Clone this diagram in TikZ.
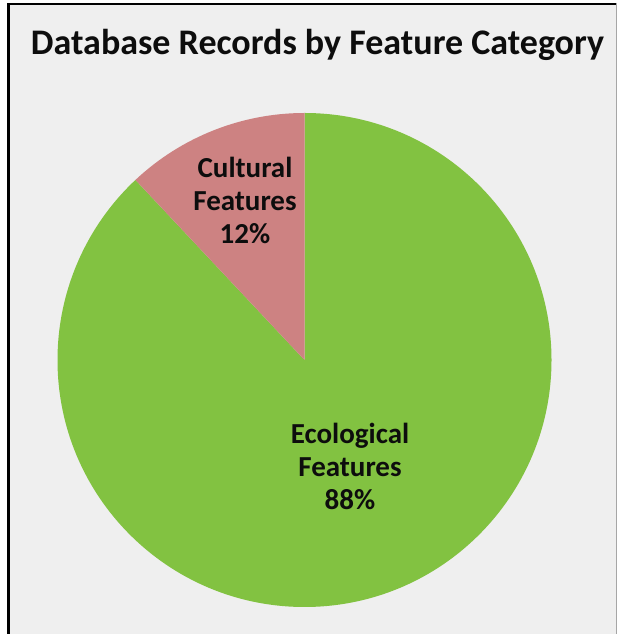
\documentclass[tikz,border=0pt]{standalone}
\usepackage{fontspec}
\setmainfont{Carlito}
\definecolor{bg}{HTML}{EFEFEF}
\definecolor{ecogreen}{RGB}{130,194,65}
\definecolor{culpink}{RGB}{205,130,130}
\definecolor{txt}{HTML}{0D0D0D}
\begin{document}
\begin{tikzpicture}[x=1pt,y=1pt,
  lbl/.style={font=\fontsize{29}{33}\selectfont\bfseries, text=txt, align=center, inner sep=0pt}]
\useasboundingbox (0,0) rectangle (621,634);
\fill[white] (0,0) rectangle (621,634);
\fill[bg] (8.5,-2) rectangle (616,630);
\draw[black, line width=2.5pt] (8.5,-2) -- (8.5,630);
\draw[black, line width=2pt] (7.3,630) -- (616,630);
\draw[gray!70, line width=1pt] (616,631) -- (616,-2);
\coordinate (c) at (304.5,274);
\fill[ecogreen] (c) -- ++(90:247) arc[start angle=90, end angle=-226.8, radius=247] -- cycle;
\fill[culpink] (c) -- ++(90:247) arc[start angle=90, end angle=133.2, radius=247] -- cycle;
\node[font=\fontsize{36}{40}\selectfont\bfseries, text=txt, inner sep=0pt] (title) at (317.5,589) {Database Records by Feature Category};
\node[lbl] (cul) at (245,434) {Cultural\\Features\\12\%};
\node[lbl] (eco) at (350,168) {Ecological\\Features\\88\%};
\end{tikzpicture}
\end{document}
